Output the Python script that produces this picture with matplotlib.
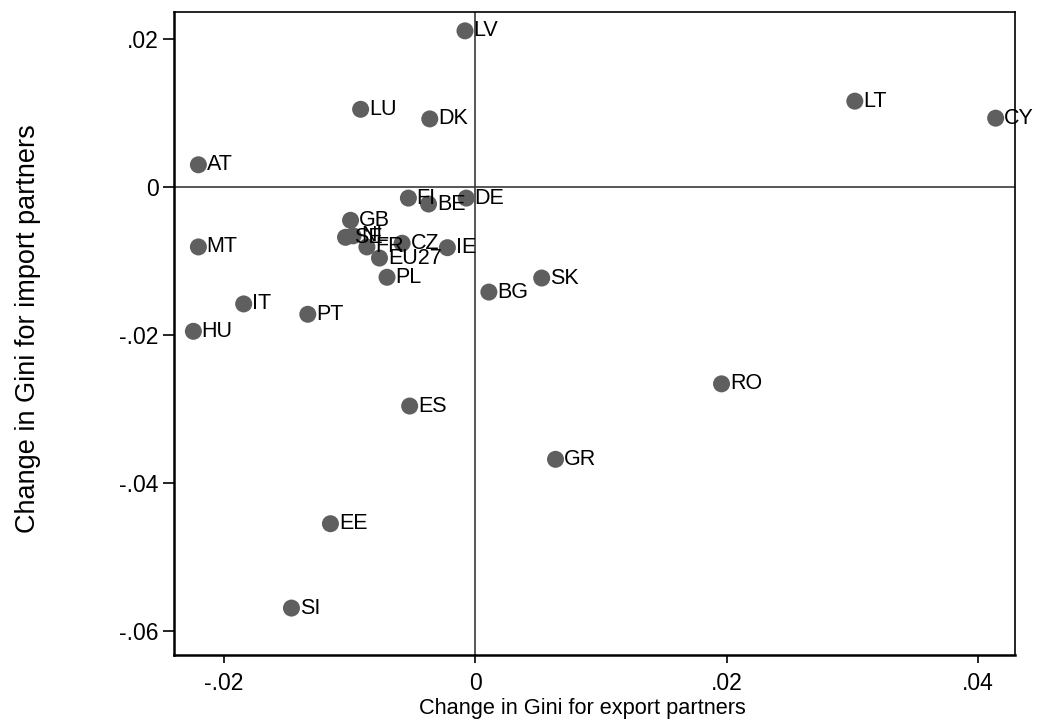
import matplotlib
matplotlib.use("Agg")
import matplotlib.pyplot as plt

plt.rcParams['font.family'] = ['Liberation Sans', 'DejaVu Sans']

countries = ["LV", "LT", "CY", "LU", "DK", "AT", "FI", "BE", "DE", "GB",
             "SE", "NL", "FR", "CZ", "EU27", "PL", "IE", "MT", "IT", "HU",
             "PT", "BG", "SK", "RO", "ES", "GR", "EE", "SI"]
export_change = [-0.0008, 0.0302, 0.0414, -0.0091, -0.0036, -0.0220, -0.0053, -0.0037, -0.0007, -0.0099,
                 -0.0103, -0.0097, -0.0086, -0.0058, -0.0076, -0.0070, -0.0022, -0.0220, -0.0184, -0.0224,
                 -0.0133, 0.0011, 0.0053, 0.0196, -0.0052, 0.0064, -0.0115, -0.0146]
import_change = [0.0211, 0.0116, 0.0093, 0.0105, 0.0092, 0.0030, -0.0015, -0.0023, -0.0015, -0.0045,
                 -0.0068, -0.0066, -0.0081, -0.0076, -0.0096, -0.0122, -0.0082, -0.0081, -0.0158, -0.0195,
                 -0.0172, -0.0142, -0.0123, -0.0266, -0.0296, -0.0368, -0.0455, -0.0569]

xticks = [-0.02, 0, 0.02, 0.04]
xticklabels = ["-.02", "0", ".02", ".04"]
yticks = [0.02, 0, -0.02, -0.04, -0.06]
yticklabels = [".02", "0", "-.02", "-.04", "-.06"]

fig = plt.figure(figsize=(10.37, 7.26), dpi=100)
ax = fig.add_axes([0.1678, 0.0978, 0.9788 - 0.1678, 0.9835 - 0.0978])

ax.set_xlim(-0.02394, 0.04294)
ax.set_ylim(-0.06324, 0.02365)

ax.axhline(0, color="#3a3a3a", lw=1.2, zorder=1)
ax.axvline(0, color="#3a3a3a", lw=1.2, zorder=1)

ax.scatter(export_change, import_change, s=150, color="#5f5f5f", edgecolors="none", zorder=3)
for name, x, y in zip(countries, export_change, import_change):
    ax.annotate(name, (x, y), xytext=(6, 0), textcoords="offset points",
                va="center", ha="left", fontsize=15.5, color="black", zorder=4)

ax.set_xticks(xticks)
ax.set_xticklabels(xticklabels)
ax.set_yticks(yticks)
ax.set_yticklabels(yticklabels)
ax.tick_params(axis="both", direction="out", width=1.2, labelsize=16.5, colors="black")
ax.tick_params(axis="x", length=6, pad=6)
ax.tick_params(axis="y", length=8, pad=3)

for side in ["left", "bottom"]:
    ax.spines[side].set_linewidth(1.8)
for side in ["top", "right"]:
    ax.spines[side].set_linewidth(1.2)

ax.set_xlabel("Change in Gini for export partners", fontsize=15.7)
ax.set_ylabel("Change in Gini for import partners", fontsize=19.5)
ax.xaxis.set_label_coords(0.486, -0.067)
ax.yaxis.set_label_coords(-0.158, 0.507)

fig.savefig("out.png", dpi=100)
